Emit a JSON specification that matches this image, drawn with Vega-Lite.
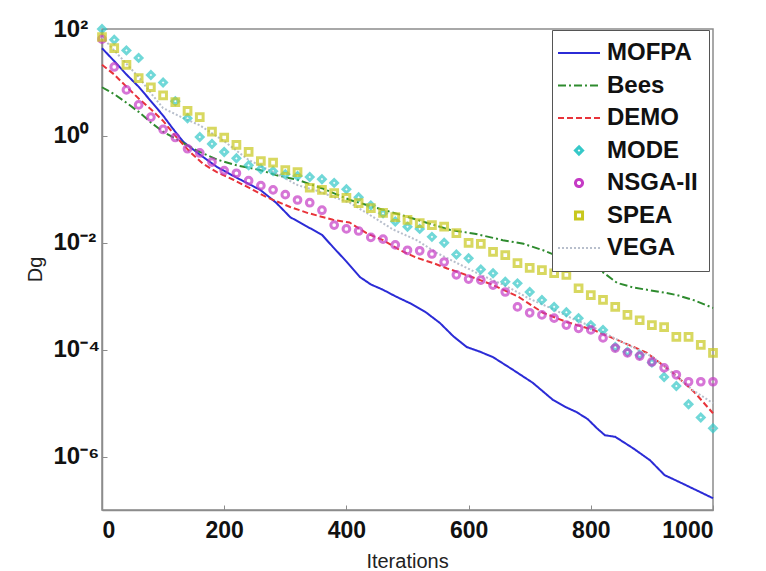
{
"$schema":"https://vega.github.io/schema/vega-lite/v6.json",
"width":611,"height":481,
"autosize":{"type":"none"},
"padding":{"left":102,"top":29,"right":53,"bottom":61},
"background":"white",
"config":{
 "view":{"stroke":"#8c8c8c","strokeWidth":1.5},
 "font":"Liberation Sans",
 "legend":{"orient":"none","legendX":450,"legendY":1,"padding":11,"strokeColor":"#555555","fillColor":"white","labelFont":"Liberation Sans","labelFontSize":24,"labelFontWeight":"bold","labelColor":"#111111","symbolSize":784,"rowPadding":8.5,"labelOffset":16,"symbolOffset":4}
},
"data":{"values":[
{"a":"MOFPA","x":0,"y":43.7},{"a":"MOFPA","x":20,"y":25.1},{"a":"MOFPA","x":40,"y":14.1},{"a":"MOFPA","x":60,"y":8.32},{"a":"MOFPA","x":80,"y":4.47},{"a":"MOFPA","x":100,"y":2.40},{"a":"MOFPA","x":115,"y":1.41},{"a":"MOFPA","x":133,"y":0.776},{"a":"MOFPA","x":160,"y":0.447},{"a":"MOFPA","x":188,"y":0.263},{"a":"MOFPA","x":220,"y":0.166},{"a":"MOFPA","x":259,"y":0.0977},{"a":"MOFPA","x":285,"y":0.0562},{"a":"MOFPA","x":308,"y":0.0302},{"a":"MOFPA","x":336,"y":0.0200},{"a":"MOFPA","x":360,"y":0.0141},{"a":"MOFPA","x":378,"y":0.00832},{"a":"MOFPA","x":400,"y":0.00447},{"a":"MOFPA","x":422,"y":0.00229},{"a":"MOFPA","x":440,"y":0.00166},{"a":"MOFPA","x":460,"y":0.00132},{"a":"MOFPA","x":480,"y":0.001},{"a":"MOFPA","x":504,"y":7.41e-4},{"a":"MOFPA","x":530,"y":5.01e-4},{"a":"MOFPA","x":553,"y":3.16e-4},{"a":"MOFPA","x":575,"y":1.78e-4},{"a":"MOFPA","x":597,"y":1.12e-4},{"a":"MOFPA","x":619,"y":9.12e-5},{"a":"MOFPA","x":640,"y":7.24e-5},{"a":"MOFPA","x":673,"y":4.17e-5},{"a":"MOFPA","x":705,"y":2.40e-5},{"a":"MOFPA","x":738,"y":1.15e-5},{"a":"MOFPA","x":760,"y":8.32e-6},{"a":"MOFPA","x":777,"y":6.76e-6},{"a":"MOFPA","x":795,"y":5.01e-6},{"a":"MOFPA","x":810,"y":3.39e-6},{"a":"MOFPA","x":823,"y":2.51e-6},{"a":"MOFPA","x":840,"y":2.34e-6},{"a":"MOFPA","x":870,"y":1.41e-6},{"a":"MOFPA","x":897,"y":8.51e-7},{"a":"MOFPA","x":921,"y":4.47e-7},{"a":"MOFPA","x":940,"y":3.55e-7},{"a":"MOFPA","x":962,"y":2.69e-7},{"a":"MOFPA","x":980,"y":2.14e-7},{"a":"MOFPA","x":1000,"y":1.66e-7},
{"a":"Bees","x":0,"y":8.13},{"a":"Bees","x":20,"y":6.03},{"a":"Bees","x":40,"y":4.17},{"a":"Bees","x":60,"y":2.82},{"a":"Bees","x":80,"y":1.78},{"a":"Bees","x":100,"y":1.20},{"a":"Bees","x":120,"y":0.891},{"a":"Bees","x":140,"y":0.661},{"a":"Bees","x":160,"y":0.501},{"a":"Bees","x":190,"y":0.355},{"a":"Bees","x":220,"y":0.282},{"a":"Bees","x":259,"y":0.229},{"a":"Bees","x":290,"y":0.178},{"a":"Bees","x":320,"y":0.151},{"a":"Bees","x":360,"y":0.105},{"a":"Bees","x":406,"y":0.0631},{"a":"Bees","x":450,"y":0.0447},{"a":"Bees","x":490,"y":0.0331},{"a":"Bees","x":530,"y":0.0240},{"a":"Bees","x":570,"y":0.0174},{"a":"Bees","x":610,"y":0.0148},{"a":"Bees","x":656,"y":0.0112},{"a":"Bees","x":690,"y":0.00955},{"a":"Bees","x":722,"y":0.00724},{"a":"Bees","x":750,"y":0.00537},{"a":"Bees","x":780,"y":0.00417},{"a":"Bees","x":815,"y":0.00309},{"a":"Bees","x":843,"y":0.00178},{"a":"Bees","x":870,"y":0.00145},{"a":"Bees","x":892,"y":0.00132},{"a":"Bees","x":920,"y":0.00117},{"a":"Bees","x":941,"y":0.00105},{"a":"Bees","x":970,"y":8.32e-4},{"a":"Bees","x":1000,"y":6.03e-4},
{"a":"DEMO","x":0,"y":21.4},{"a":"DEMO","x":20,"y":14.1},{"a":"DEMO","x":40,"y":8.32},{"a":"DEMO","x":60,"y":5.01},{"a":"DEMO","x":80,"y":3.16},{"a":"DEMO","x":100,"y":1.91},{"a":"DEMO","x":120,"y":1.0},{"a":"DEMO","x":144,"y":0.501},{"a":"DEMO","x":165,"y":0.302},{"a":"DEMO","x":188,"y":0.209},{"a":"DEMO","x":215,"y":0.151},{"a":"DEMO","x":242,"y":0.105},{"a":"DEMO","x":270,"y":0.0708},{"a":"DEMO","x":308,"y":0.0468},{"a":"DEMO","x":336,"y":0.0363},{"a":"DEMO","x":378,"y":0.0269},{"a":"DEMO","x":405,"y":0.0240},{"a":"DEMO","x":433,"y":0.0151},{"a":"DEMO","x":460,"y":0.0112},{"a":"DEMO","x":488,"y":0.00724},{"a":"DEMO","x":515,"y":0.00525},{"a":"DEMO","x":542,"y":0.00417},{"a":"DEMO","x":565,"y":0.00331},{"a":"DEMO","x":586,"y":0.00275},{"a":"DEMO","x":619,"y":0.00200},{"a":"DEMO","x":640,"y":0.00162},{"a":"DEMO","x":680,"y":0.00100},{"a":"DEMO","x":722,"y":4.90e-4},{"a":"DEMO","x":760,"y":3.31e-4},{"a":"DEMO","x":804,"y":2.34e-4},{"a":"DEMO","x":850,"y":1.41e-4},{"a":"DEMO","x":892,"y":8.71e-5},{"a":"DEMO","x":935,"y":3.63e-5},{"a":"DEMO","x":970,"y":1.58e-5},{"a":"DEMO","x":1000,"y":6.46e-6},
{"a":"VEGA","x":0,"y":70.8},{"a":"VEGA","x":20,"y":39.8},{"a":"VEGA","x":40,"y":22.4},{"a":"VEGA","x":60,"y":12.6},{"a":"VEGA","x":80,"y":6.31},{"a":"VEGA","x":100,"y":3.31},{"a":"VEGA","x":130,"y":2.24},{"a":"VEGA","x":160,"y":1.58},{"a":"VEGA","x":200,"y":0.794},{"a":"VEGA","x":240,"y":0.355},{"a":"VEGA","x":270,"y":0.240},{"a":"VEGA","x":296,"y":0.170},{"a":"VEGA","x":320,"y":0.120},{"a":"VEGA","x":350,"y":0.0955},{"a":"VEGA","x":378,"y":0.0724},{"a":"VEGA","x":405,"y":0.0562},{"a":"VEGA","x":433,"y":0.0363},{"a":"VEGA","x":476,"y":0.0178},{"a":"VEGA","x":515,"y":0.0112},{"a":"VEGA","x":548,"y":0.00646},{"a":"VEGA","x":581,"y":0.00417},{"a":"VEGA","x":620,"y":0.00251},{"a":"VEGA","x":660,"y":0.00158},{"a":"VEGA","x":700,"y":8.91e-4},{"a":"VEGA","x":740,"y":5.62e-4},{"a":"VEGA","x":770,"y":3.80e-4},{"a":"VEGA","x":804,"y":2.63e-4},{"a":"VEGA","x":850,"y":1.41e-4},{"a":"VEGA","x":902,"y":7.24e-5},{"a":"VEGA","x":935,"y":3.55e-5},{"a":"VEGA","x":967,"y":1.74e-5},{"a":"VEGA","x":1000,"y":1.0e-5},
{"a":"MODE","x":0,"y":100},{"a":"MODE","x":20,"y":63.1},{"a":"MODE","x":40,"y":39.8},{"a":"MODE","x":60,"y":28.8},{"a":"MODE","x":80,"y":13.8},{"a":"MODE","x":100,"y":10.0},{"a":"MODE","x":120,"y":4.47},{"a":"MODE","x":140,"y":2.14},{"a":"MODE","x":160,"y":0.955},{"a":"MODE","x":180,"y":0.708},{"a":"MODE","x":200,"y":0.501},{"a":"MODE","x":220,"y":0.380},{"a":"MODE","x":240,"y":0.282},{"a":"MODE","x":260,"y":0.240},{"a":"MODE","x":280,"y":0.219},{"a":"MODE","x":300,"y":0.191},{"a":"MODE","x":320,"y":0.178},{"a":"MODE","x":340,"y":0.170},{"a":"MODE","x":360,"y":0.155},{"a":"MODE","x":380,"y":0.132},{"a":"MODE","x":400,"y":0.100},{"a":"MODE","x":420,"y":0.0708},{"a":"MODE","x":440,"y":0.0501},{"a":"MODE","x":460,"y":0.0355},{"a":"MODE","x":480,"y":0.0251},{"a":"MODE","x":500,"y":0.0200},{"a":"MODE","x":520,"y":0.0182},{"a":"MODE","x":540,"y":0.0129},{"a":"MODE","x":560,"y":0.0100},{"a":"MODE","x":580,"y":0.00603},{"a":"MODE","x":600,"y":0.00513},{"a":"MODE","x":620,"y":0.00316},{"a":"MODE","x":640,"y":0.00269},{"a":"MODE","x":660,"y":0.00186},{"a":"MODE","x":680,"y":0.00174},{"a":"MODE","x":700,"y":0.00120},{"a":"MODE","x":720,"y":8.51e-4},{"a":"MODE","x":740,"y":6.31e-4},{"a":"MODE","x":760,"y":5.01e-4},{"a":"MODE","x":780,"y":3.89e-4},{"a":"MODE","x":800,"y":2.88e-4},{"a":"MODE","x":820,"y":2.34e-4},{"a":"MODE","x":840,"y":1.12e-4},{"a":"MODE","x":860,"y":9.12e-5},{"a":"MODE","x":880,"y":7.94e-5},{"a":"MODE","x":900,"y":5.75e-5},{"a":"MODE","x":920,"y":3.09e-5},{"a":"MODE","x":940,"y":2.09e-5},{"a":"MODE","x":960,"y":9.55e-6},{"a":"MODE","x":980,"y":5.37e-6},{"a":"MODE","x":1000,"y":3.39e-6},
{"a":"NSGA-II","x":0,"y":64.6},{"a":"NSGA-II","x":20,"y":19.5},{"a":"NSGA-II","x":40,"y":7.24},{"a":"NSGA-II","x":60,"y":3.80},{"a":"NSGA-II","x":80,"y":2.24},{"a":"NSGA-II","x":100,"y":1.32},{"a":"NSGA-II","x":120,"y":0.933},{"a":"NSGA-II","x":140,"y":0.575},{"a":"NSGA-II","x":160,"y":0.479},{"a":"NSGA-II","x":180,"y":0.324},{"a":"NSGA-II","x":200,"y":0.224},{"a":"NSGA-II","x":220,"y":0.200},{"a":"NSGA-II","x":240,"y":0.145},{"a":"NSGA-II","x":260,"y":0.117},{"a":"NSGA-II","x":280,"y":0.0977},{"a":"NSGA-II","x":300,"y":0.0794},{"a":"NSGA-II","x":320,"y":0.0631},{"a":"NSGA-II","x":340,"y":0.0562},{"a":"NSGA-II","x":360,"y":0.0407},{"a":"NSGA-II","x":380,"y":0.0214},{"a":"NSGA-II","x":400,"y":0.0182},{"a":"NSGA-II","x":420,"y":0.0166},{"a":"NSGA-II","x":440,"y":0.0126},{"a":"NSGA-II","x":460,"y":0.0117},{"a":"NSGA-II","x":480,"y":0.00912},{"a":"NSGA-II","x":500,"y":0.00724},{"a":"NSGA-II","x":520,"y":0.00708},{"a":"NSGA-II","x":540,"y":0.00617},{"a":"NSGA-II","x":560,"y":0.00437},{"a":"NSGA-II","x":580,"y":0.00251},{"a":"NSGA-II","x":600,"y":0.00209},{"a":"NSGA-II","x":620,"y":0.00200},{"a":"NSGA-II","x":640,"y":0.00162},{"a":"NSGA-II","x":660,"y":0.00120},{"a":"NSGA-II","x":680,"y":6.31e-4},{"a":"NSGA-II","x":700,"y":4.90e-4},{"a":"NSGA-II","x":720,"y":4.47e-4},{"a":"NSGA-II","x":740,"y":3.89e-4},{"a":"NSGA-II","x":760,"y":2.88e-4},{"a":"NSGA-II","x":780,"y":2.51e-4},{"a":"NSGA-II","x":800,"y":2.34e-4},{"a":"NSGA-II","x":820,"y":1.66e-4},{"a":"NSGA-II","x":840,"y":1.07e-4},{"a":"NSGA-II","x":860,"y":8.71e-5},{"a":"NSGA-II","x":880,"y":7.59e-5},{"a":"NSGA-II","x":900,"y":5.89e-5},{"a":"NSGA-II","x":920,"y":4.57e-5},{"a":"NSGA-II","x":940,"y":3.39e-5},{"a":"NSGA-II","x":960,"y":2.51e-5},{"a":"NSGA-II","x":980,"y":2.51e-5},{"a":"NSGA-II","x":1000,"y":2.51e-5},
{"a":"SPEA","x":0,"y":70.8},{"a":"SPEA","x":20,"y":43.7},{"a":"SPEA","x":40,"y":21.4},{"a":"SPEA","x":60,"y":12.0},{"a":"SPEA","x":80,"y":8.13},{"a":"SPEA","x":100,"y":5.75},{"a":"SPEA","x":120,"y":4.27},{"a":"SPEA","x":140,"y":2.95},{"a":"SPEA","x":160,"y":2.24},{"a":"SPEA","x":180,"y":1.20},{"a":"SPEA","x":200,"y":0.933},{"a":"SPEA","x":220,"y":0.676},{"a":"SPEA","x":240,"y":0.501},{"a":"SPEA","x":260,"y":0.339},{"a":"SPEA","x":280,"y":0.316},{"a":"SPEA","x":300,"y":0.229},{"a":"SPEA","x":320,"y":0.209},{"a":"SPEA","x":340,"y":0.107},{"a":"SPEA","x":360,"y":0.0977},{"a":"SPEA","x":380,"y":0.0851},{"a":"SPEA","x":400,"y":0.0692},{"a":"SPEA","x":420,"y":0.0550},{"a":"SPEA","x":440,"y":0.0447},{"a":"SPEA","x":460,"y":0.0363},{"a":"SPEA","x":480,"y":0.0302},{"a":"SPEA","x":500,"y":0.0269},{"a":"SPEA","x":520,"y":0.0234},{"a":"SPEA","x":540,"y":0.0214},{"a":"SPEA","x":560,"y":0.0200},{"a":"SPEA","x":580,"y":0.0151},{"a":"SPEA","x":600,"y":0.0100},{"a":"SPEA","x":620,"y":0.00955},{"a":"SPEA","x":640,"y":0.00676},{"a":"SPEA","x":660,"y":0.00589},{"a":"SPEA","x":680,"y":0.00417},{"a":"SPEA","x":700,"y":0.00339},{"a":"SPEA","x":720,"y":0.00309},{"a":"SPEA","x":740,"y":0.00269},{"a":"SPEA","x":760,"y":0.00251},{"a":"SPEA","x":780,"y":0.00141},{"a":"SPEA","x":800,"y":0.00105},{"a":"SPEA","x":820,"y":8.51e-4},{"a":"SPEA","x":840,"y":6.31e-4},{"a":"SPEA","x":860,"y":4.47e-4},{"a":"SPEA","x":880,"y":3.55e-4},{"a":"SPEA","x":900,"y":2.88e-4},{"a":"SPEA","x":920,"y":2.63e-4},{"a":"SPEA","x":940,"y":1.74e-4},{"a":"SPEA","x":960,"y":1.74e-4},{"a":"SPEA","x":980,"y":1.23e-4},{"a":"SPEA","x":1000,"y":8.71e-5}
]},
"encoding":{
 "x":{"field":"x","type":"quantitative","scale":{"domain":[0,1000],"nice":false},
  "axis":{"values":[0,200,400,600,800,1000],"format":"d","grid":false,"title":"Iterations","labelFont":"Liberation Sans","labelFontSize":23,"labelFontWeight":"bold","labelColor":"#111111","labelPadding":14,"tickSize":-5,"tickColor":"#8c8c8c","domainColor":"#8c8c8c","domainWidth":1.5,"titleFont":"Liberation Sans","titleFontSize":20,"titleFontWeight":"normal","titleColor":"#222222","titleX":305,"titleY":51,"titleBaseline":"middle","titleAlign":"center"}},
 "y":{"field":"y","type":"quantitative","scale":{"type":"log","domain":[1e-7,100],"nice":false},
  "axis":{"values":[100,1,0.01,0.0001,0.000001],"grid":false,"labelExpr":"'10' + (datum.value > 10 ? '²' : datum.value > 0.1 ? '⁰' : datum.value > 0.001 ? '⁻²' : datum.value > 0.00001 ? '⁻⁴' : '⁻⁶')","labelAlign":"left","labelBaseline":"middle","labelPadding":54,"labelFont":"Liberation Sans","labelFontSize":24,"labelFontWeight":"bold","labelColor":"#111111","tickSize":-5,"tickColor":"#8c8c8c","domainColor":"#8c8c8c","domainWidth":1.5,"title":"Dg","titleFont":"Liberation Sans","titleFontSize":20,"titleFontWeight":"normal","titleColor":"#222222","titleX":-67,"titleY":240,"titleAngle":270,"titleAlign":"center","titleBaseline":"middle"}},
 "color":{"field":"a","type":"nominal","scale":{"domain":["MOFPA","Bees","DEMO","MODE","NSGA-II","SPEA","VEGA"],"range":["#2b2bd6","#2e8b2e","#e8333a","#35c8c8","#c53bc5","#c8c81e","#b8bfcc"]},
  "legend":{"title":null,"encode":{"symbols":{"update":{"size":{"signal":"indexof(['MODE','NSGA-II','SPEA'], datum.value) >= 0 ? 50 : 1764"},"strokeWidth":{"signal":"indexof(['MODE','NSGA-II','SPEA'], datum.value) >= 0 ? 3 : 2"}}}}}}
},
"layer":[
 {"transform":[{"filter":{"field":"a","oneOf":["MOFPA","Bees","DEMO","VEGA"]}}],
  "mark":{"type":"line","strokeWidth":2},
  "encoding":{"strokeDash":{"field":"a","type":"nominal","scale":{"domain":["MOFPA","Bees","DEMO","MODE","NSGA-II","SPEA","VEGA"],"range":[[1,0],[8,3,2,3],[6,3],[1,0],[1,0],[1,0],[2,2]]},"legend":{"title":null}}}},
 {"transform":[{"filter":{"field":"a","oneOf":["MODE","NSGA-II","SPEA"]}}],
  "mark":{"type":"point","filled":false,"strokeWidth":3,"size":45},
  "encoding":{"shape":{"field":"a","type":"nominal","scale":{"domain":["MOFPA","Bees","DEMO","MODE","NSGA-II","SPEA","VEGA"],"range":["stroke","stroke","stroke","diamond","circle","square","stroke"]},"legend":{"title":null}}}}
]
}
